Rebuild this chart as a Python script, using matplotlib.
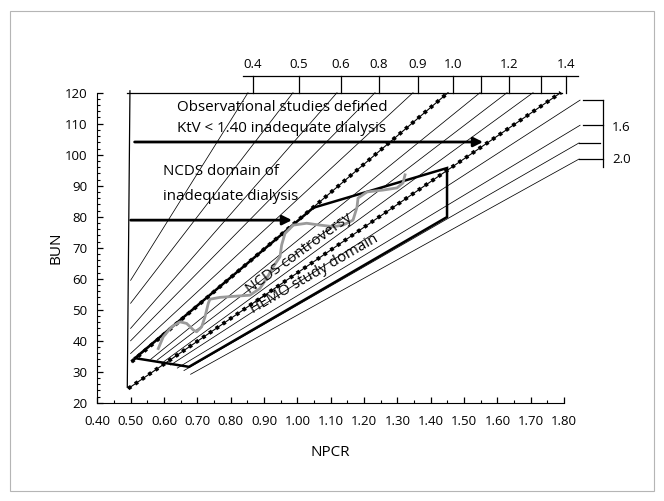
import matplotlib.pyplot as plt
from matplotlib.patches import Rectangle
from matplotlib.ticker import MultipleLocator, FormatStrFormatter

plt.rcParams['font.family'] = ['Open Sans', 'DejaVu Sans']

# thin Kt/V isopleths (NPCR, BUN at each end)
iso_x0 = [0.50, 0.50, 0.50, 0.50, 0.50, 0.56, 0.58, 0.60, 0.62, 0.64, 0.66, 0.68]
iso_y0 = [59.5, 52.1, 44.0, 40.0, 35.9, 34.0, 33.8, 33.3, 32.2, 31.2, 30.4, 29.2]
iso_x1 = [0.852, 0.987, 1.119, 1.233, 1.347, 1.548, 1.629, 1.707, 1.848, 1.848, 1.845, 1.845]
iso_y1 = [120, 120, 120, 120, 120, 120, 120, 120, 117.6, 109.5, 103.8, 98.6]

# Kt/V 1.0 and 1.4 lines (dotted)
ktv10_npcr = [0.503, 1.452]
ktv10_bun = [33.2, 120]
ktv14_npcr = [0.493, 1.790]
ktv14_bun = [24.6, 120]

# outline of the NCDS controversy / HEMO region
ncds_npcr = [0.513, 1.048, 1.449, 1.449, 0.675, 0.513]
ncds_bun = [34.4, 82.9, 95.7, 79.9, 31.6, 34.4]

# NCDS data trace
trace_npcr = [0.583, 0.598, 0.623, 0.648, 0.668, 0.688, 0.698, 0.713, 0.723, 0.733,
              0.738, 0.768, 0.818, 0.858, 0.888, 0.908, 0.928, 0.948, 0.953, 0.963,
              0.988, 1.028, 1.068, 1.108, 1.137, 1.167, 1.179, 1.182, 1.209, 1.257,
              1.299, 1.317, 1.323]
trace_bun = [37.5, 41.3, 44.5, 46.1, 45.6, 43.5, 42.9, 44.5, 47.7, 52.1,
             53.4, 54.0, 54.4, 54.7, 56.9, 60.1, 63.9, 67.1, 70.9, 74.6,
             77.3, 77.9, 77.3, 76.8, 77.3, 78.9, 83.1, 86.0, 88.0, 88.6,
             89.3, 90.9, 93.5]

# Kt/V scale along the top
ktv_pos = [0.867, 1.005, 1.131, 1.245, 1.362, 1.467, 1.551, 1.635, 1.731, 1.806]
ktv_lab = ['0.4', '0.5', '0.6', '0.8', '0.9', '1.0', '', '1.2', '', '1.4']

# bracket on the right
brk_x0 = [1.857, 1.857, 1.845, 1.845]
brk_x1 = [1.917, 1.917, 1.908, 1.917]
brk_y = [117.6, 109.5, 103.8, 98.6]

fig = plt.figure(figsize=(6.64, 5.01), dpi=100)
ax = fig.add_axes([0.1465, 0.196, 0.703, 0.619])
fig.patches.append(Rectangle((10 / 664, 10 / 501), 644 / 664, 480 / 501,
                             transform=fig.transFigure, fill=False,
                             edgecolor='#b5b5b5', lw=0.8))

ax.set_xlim(0.4, 1.8)
ax.set_ylim(20, 120)
for s in ['top', 'right']:
    ax.spines[s].set_visible(False)
ax.xaxis.set_major_locator(MultipleLocator(0.1))
ax.xaxis.set_minor_locator(MultipleLocator(0.05))
ax.xaxis.set_major_formatter(FormatStrFormatter('%.2f'))
ax.yaxis.set_major_locator(MultipleLocator(10))
ax.yaxis.set_minor_locator(MultipleLocator(2))
ax.tick_params(which='major', direction='in', length=4, width=0.9, labelsize=9.5)
ax.tick_params(which='minor', direction='in', length=2.5, width=0.8)
ax.tick_params(axis='x', pad=9)
ax.tick_params(axis='y', pad=7)
ax.set_xlabel('NPCR', fontsize=11, labelpad=12)
ax.set_ylabel('BUN', fontsize=11, labelpad=1)

kw = dict(color='black', clip_on=False)

# frame of the nomogram
ax.plot([0.49, 1.795], [120, 120], lw=0.9, **kw)
ax.plot([0.498, 0.49], [120.6, 25.0], lw=0.9, **kw)

for x0, y0, x1, y1 in zip(iso_x0, iso_y0, iso_x1, iso_y1):
    ax.plot([x0, x1], [y0, y1], lw=0.55, **kw)

for xs, ys in [(ktv10_npcr, ktv10_bun), (ktv14_npcr, ktv14_bun)]:
    ax.plot(xs, ys, lw=0.8, **kw)
    ax.plot(xs, ys, lw=2.8, linestyle=(0, (0.9, 1.2)), dash_capstyle='butt', **kw)

ax.plot(ncds_npcr, ncds_bun, lw=1.8, solid_joinstyle='miter', **kw)
ax.plot(trace_npcr, trace_bun, color='#9a9a9a', lw=2.0, clip_on=False)

# Kt/V ruler
ax.plot([0.838, 1.842], [125.4, 125.4], lw=0.9, **kw)
for p, lab in zip(ktv_pos, ktv_lab):
    ax.plot([p, p], [125.4, 120], lw=0.9, **kw)
    ax.text(p, 127.0, lab, ha='center', va='bottom', fontsize=9.5)

for x0, x1, y in zip(brk_x0, brk_x1, brk_y):
    ax.plot([x0, x1], [y, y], lw=0.9, **kw)
ax.plot([1.917, 1.917], [117.8, 96.0], lw=0.9, **kw)
ax.text(1.944, 108.9, '1.6', va='center', fontsize=9.5, clip_on=False)
ax.text(1.944, 98.3, '2.0', va='center', fontsize=9.5, clip_on=False)

# arrows
arr = dict(arrowstyle='-|>', lw=2.0, color='black', mutation_scale=14,
           shrinkA=0, shrinkB=0)
ax.annotate('', xy=(1.557, 104.1), xytext=(0.512, 104.1), arrowprops=arr,
            annotation_clip=False)
ax.annotate('', xy=(0.984, 78.9), xytext=(0.500, 78.9), arrowprops=arr,
            annotation_clip=False)

ax.text(0.64, 115.1, 'Observational studies defined', fontsize=10.9, va='center')
ax.text(0.64, 108.6, 'KtV < 1.40 inadequate dialysis', fontsize=10.9, va='center')
ax.text(0.598, 94.5, 'NCDS domain of', fontsize=10.9, va='center')
ax.text(0.598, 86.5, 'inadequate dialysis', fontsize=10.9, va='center')
ax.text(1.005, 68.0, 'NCDS controversy', fontsize=10.9, rotation=36,
        ha='center', va='center', rotation_mode='anchor')
ax.text(1.05, 61.5, 'HEMO study domain', fontsize=10.9, rotation=30,
        ha='center', va='center', rotation_mode='anchor')

fig.savefig('out.png', dpi=100)
